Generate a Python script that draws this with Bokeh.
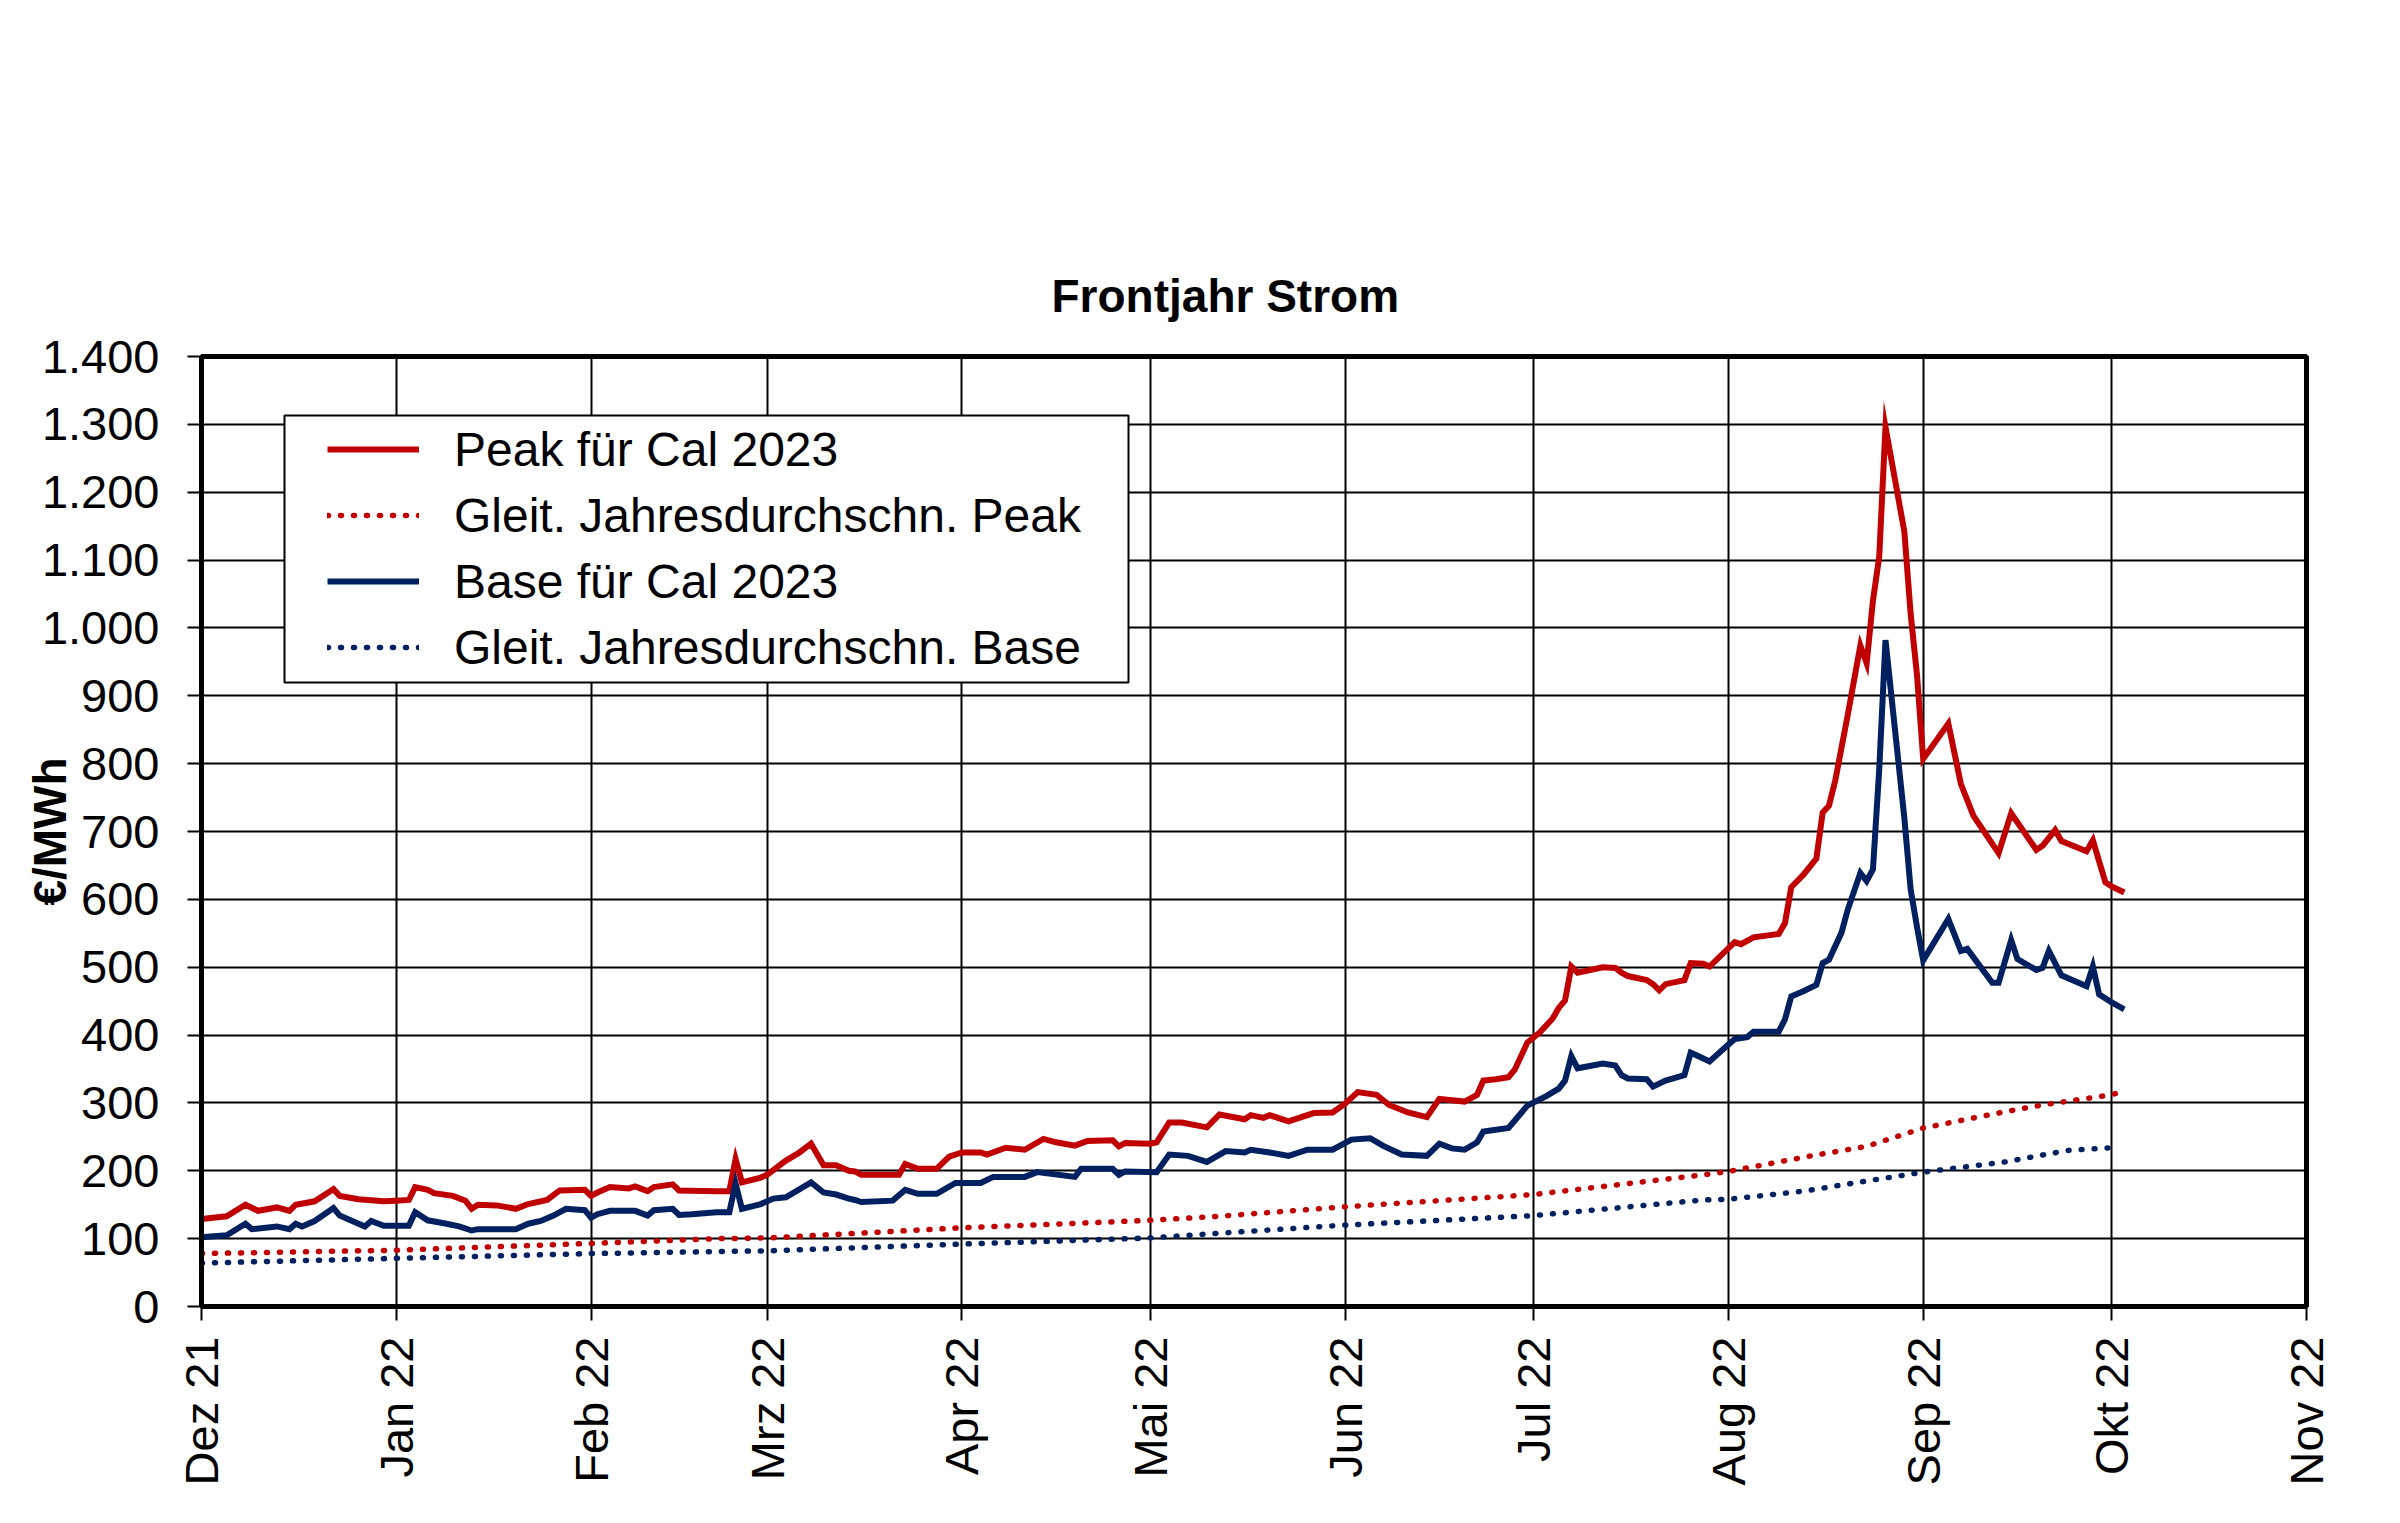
import pandas as pd
from bokeh.plotting import figure
from bokeh.models import FixedTicker, CustomJSTickFormatter, Legend, LegendItem, Range1d, BoxAnnotation
from bokeh.embed import file_html
from bokeh.resources import INLINE

title_text = "Frontjahr Strom"
y_label = "€/MWh"

peak_dates = ["2021-12-01","2021-12-05","2021-12-08","2021-12-10","2021-12-13","2021-12-15","2021-12-16","2021-12-19",
              "2021-12-22","2021-12-23","2021-12-26","2021-12-30","2022-01-01","2022-01-03","2022-01-04","2022-01-06",
              "2022-01-07","2022-01-10","2022-01-12","2022-01-13","2022-01-14","2022-01-17","2022-01-20","2022-01-22",
              "2022-01-25","2022-01-27","2022-01-31","2022-02-01","2022-02-02","2022-02-04","2022-02-07","2022-02-08",
              "2022-02-10","2022-02-11","2022-02-14","2022-02-15","2022-02-21","2022-02-23","2022-02-24","2022-02-25",
              "2022-02-28","2022-03-01","2022-03-04","2022-03-06","2022-03-08","2022-03-10","2022-03-12","2022-03-14",
              "2022-03-15","2022-03-16","2022-03-22","2022-03-23","2022-03-25","2022-03-28","2022-03-30","2022-04-01",
              "2022-04-04","2022-04-05","2022-04-08","2022-04-11","2022-04-14","2022-04-16","2022-04-19","2022-04-21",
              "2022-04-25","2022-04-26","2022-04-27","2022-05-01","2022-05-02","2022-05-04","2022-05-06","2022-05-10",
              "2022-05-12","2022-05-16","2022-05-17","2022-05-19","2022-05-20","2022-05-23","2022-05-27","2022-05-30",
              "2022-06-01","2022-06-03","2022-06-06","2022-06-08","2022-06-11","2022-06-14","2022-06-16","2022-06-18",
              "2022-06-20","2022-06-22","2022-06-23","2022-06-25","2022-06-27","2022-06-28","2022-06-30","2022-07-02",
              "2022-07-04","2022-07-05","2022-07-06","2022-07-07","2022-07-08","2022-07-12","2022-07-14","2022-07-15",
              "2022-07-16","2022-07-19","2022-07-20","2022-07-21","2022-07-22","2022-07-25","2022-07-26","2022-07-28",
              "2022-07-29","2022-08-02","2022-08-03","2022-08-05","2022-08-09","2022-08-10","2022-08-11","2022-08-13",
              "2022-08-15","2022-08-16","2022-08-17","2022-08-18","2022-08-20","2022-08-22","2022-08-23","2022-08-24",
              "2022-08-25","2022-08-26","2022-08-29","2022-08-30","2022-08-31","2022-09-01","2022-09-05","2022-09-07",
              "2022-09-09","2022-09-13","2022-09-15","2022-09-19","2022-09-20","2022-09-22","2022-09-23","2022-09-27",
              "2022-09-28","2022-09-30","2022-10-01","2022-10-03"]
peak_values = [129,133,150,141,146,141,150,155,
               173,163,158,155,156,157,176,172,
               167,163,156,144,150,149,144,151,
               157,171,172,163,168,176,174,177,
               170,176,180,171,170,170,217,183,
               190,194,215,226,240,208,208,200,
               199,194,194,210,203,203,221,227,
               227,224,234,231,247,242,237,244,
               245,236,241,240,242,271,271,264,
               283,276,282,278,282,273,285,286,
               299,316,312,297,286,279,306,304,
               302,312,333,335,338,349,389,404,
               424,440,451,501,492,500,499,492,
               487,481,475,466,475,481,506,505,
               501,537,534,544,549,565,618,637,
               660,728,738,775,872,974,948,1040,
               1105,1296,1142,1021,932,807,859,770,
               723,668,727,673,679,702,686,671,
               687,625,619,610]

base_dates = ["2021-12-01","2021-12-05","2021-12-08","2021-12-09","2021-12-13","2021-12-15","2021-12-16","2021-12-17",
              "2021-12-19","2021-12-22","2021-12-23","2021-12-27","2021-12-28","2021-12-30","2022-01-03","2022-01-04",
              "2022-01-06","2022-01-09","2022-01-11","2022-01-13","2022-01-14","2022-01-20","2022-01-22","2022-01-24",
              "2022-01-26","2022-01-28","2022-01-31","2022-02-01","2022-02-02","2022-02-04","2022-02-08","2022-02-10",
              "2022-02-11","2022-02-14","2022-02-15","2022-02-17","2022-02-21","2022-02-23","2022-02-24","2022-02-25",
              "2022-02-28","2022-03-02","2022-03-04","2022-03-08","2022-03-10","2022-03-12","2022-03-14","2022-03-15",
              "2022-03-16","2022-03-21","2022-03-23","2022-03-25","2022-03-28","2022-03-31","2022-04-04","2022-04-06",
              "2022-04-11","2022-04-13","2022-04-19","2022-04-20","2022-04-25","2022-04-26","2022-04-27","2022-05-02",
              "2022-05-04","2022-05-07","2022-05-10","2022-05-13","2022-05-16","2022-05-17","2022-05-20","2022-05-23",
              "2022-05-26","2022-05-30","2022-06-02","2022-06-05","2022-06-07","2022-06-10","2022-06-14","2022-06-16",
              "2022-06-18","2022-06-20","2022-06-22","2022-06-23","2022-06-27","2022-06-30","2022-07-03","2022-07-05",
              "2022-07-06","2022-07-07","2022-07-08","2022-07-12","2022-07-14","2022-07-15","2022-07-16","2022-07-19",
              "2022-07-20","2022-07-22","2022-07-25","2022-07-26","2022-07-27","2022-07-29","2022-08-01","2022-08-02",
              "2022-08-04","2022-08-05","2022-08-09","2022-08-10","2022-08-11","2022-08-13","2022-08-15","2022-08-16",
              "2022-08-17","2022-08-19","2022-08-20","2022-08-22","2022-08-23","2022-08-24","2022-08-25","2022-08-26",
              "2022-08-29","2022-08-30","2022-08-31","2022-09-01","2022-09-05","2022-09-07","2022-09-08","2022-09-12",
              "2022-09-13","2022-09-15","2022-09-16","2022-09-19","2022-09-20","2022-09-21","2022-09-23","2022-09-27",
              "2022-09-28","2022-09-29","2022-10-01","2022-10-03"]
base_values = [102,105,122,114,118,114,122,118,
               126,145,134,118,126,119,119,139,
               127,122,118,112,114,114,122,126,
               134,144,142,131,136,141,141,134,
               142,144,135,136,139,139,181,144,
               151,159,161,183,168,165,159,157,
               154,156,172,166,166,182,182,191,
               191,198,191,203,203,194,199,198,
               224,222,213,229,227,231,227,222,
               231,231,246,248,237,224,222,240,
               233,231,242,258,263,296,310,321,
               333,369,351,358,355,341,336,335,
               324,333,341,374,370,361,386,394,
               397,405,405,423,457,465,474,506,
               511,551,585,639,627,644,791,982,
               720,615,560,510,571,524,527,477,
               477,540,512,496,499,524,488,472,
               501,460,448,438]

peak_ma_dates = ["2021-12-01","2022-01-01","2022-02-01","2022-02-21","2022-03-01","2022-04-01","2022-05-01",
                 "2022-05-12","2022-06-01","2022-07-01","2022-07-28","2022-08-01","2022-08-13","2022-08-23",
                 "2022-09-01","2022-09-14","2022-09-20","2022-10-01","2022-10-02"]
peak_ma_values = [78,83,93,100,101,116,127,133,147,165,194,199,220,236,263,287,297,312,315]

base_ma_dates = ["2021-12-01","2022-01-01","2022-02-01","2022-02-21","2022-03-01","2022-04-01","2022-05-01",
                 "2022-05-12","2022-06-01","2022-07-01","2022-07-28","2022-08-01","2022-08-13","2022-08-23",
                 "2022-09-01","2022-09-14","2022-09-24","2022-10-01","2022-10-02"]
base_ma_values = [64,71,78,81,82,92,101,108,120,134,157,158,170,185,198,213,230,234,235]

month_ticks = ["2021-12-01","2022-01-01","2022-02-01","2022-03-01","2022-04-01","2022-05-01","2022-06-01",
               "2022-07-01","2022-08-01","2022-09-01","2022-10-01","2022-11-01"]
month_labels = ["Dez 21","Jan 22","Feb 22","Mrz 22","Apr 22","Mai 22","Jun 22","Jul 22","Aug 22","Sep 22",
                "Okt 22","Nov 22"]
y_ticks = [0,100,200,300,400,500,600,700,800,900,1000,1100,1200,1300,1400]
y_tick_labels = ["0","100","200","300","400","500","600","700","800","900","1.000","1.100","1.200","1.300","1.400"]

series_names = ["Peak für Cal 2023", "Gleit. Jahresdurchschn. Peak", "Base für Cal 2023", "Gleit. Jahresdurchschn. Base"]
RED = "#C00000"
NAVY = "#002060"
FONT = "Liberation Sans"

def ms(dates):
    return [pd.Timestamp(d).value / 1e6 for d in dates]

tick_ms = ms(month_ticks)

FW, FH = 2105, 950
p = figure(x_axis_type="datetime", frame_width=FW, frame_height=FH,
           min_border_left=201, min_border_top=356, min_border_right=78, min_border_bottom=200,
           output_backend="svg", toolbar_location=None,
           x_range=Range1d(tick_ms[0], tick_ms[-1]), y_range=Range1d(0, 1400))
p.background_fill_color = "white"
p.border_fill_color = "white"
p.outline_line_color = "black"
p.outline_line_width = 5

p.title.text = title_text
p.title.text_font = FONT
p.title.text_font_size = "46px"
p.title.text_font_style = "bold"
p.title.text_color = "black"
p.title.align = "left"
p.title.offset = 850
p.title.standoff = 69

l1 = p.line(ms(peak_dates), peak_values, line_color=RED, line_width=6, line_join="miter")
l2 = p.line(ms(peak_ma_dates), peak_ma_values, line_color=RED, line_width=5.5, line_dash="1 12", line_cap="round")
l3 = p.line(ms(base_dates), base_values, line_color=NAVY, line_width=6, line_join="miter")
l4 = p.line(ms(base_ma_dates), base_ma_values, line_color=NAVY, line_width=5.5, line_dash="1 12", line_cap="round")

p.xaxis.ticker = FixedTicker(ticks=tick_ms)
p.xaxis.formatter = CustomJSTickFormatter(args=dict(tick_vals=tick_ms, tick_texts=month_labels),
    code="const i = tick_vals.indexOf(tick); return i >= 0 ? tick_texts[i] : '';")
p.yaxis.ticker = FixedTicker(ticks=y_ticks)
p.yaxis.formatter = CustomJSTickFormatter(args=dict(tick_vals=y_ticks, tick_texts=y_tick_labels),
    code="const i = tick_vals.indexOf(tick); return i >= 0 ? tick_texts[i] : String(tick);")
p.xaxis.major_label_orientation = 3.14159265 / 2

for ax in (p.xaxis[0], p.yaxis[0]):
    ax.axis_line_color = "black"
    ax.axis_line_width = 5
    ax.major_tick_line_color = "black"
    ax.major_tick_line_width = 2
    ax.major_tick_out = 14
    ax.major_tick_in = 0
    ax.minor_tick_line_color = None
    ax.major_label_text_font = FONT
    ax.major_label_text_font_size = "47px"
    ax.major_label_text_color = "black"
p.yaxis.major_label_standoff = 28
p.xaxis.major_label_standoff = 16
p.yaxis.axis_label = y_label
p.yaxis.axis_label_text_font = FONT
p.yaxis.axis_label_text_font_size = "46px"
p.yaxis.axis_label_text_font_style = "bold"
p.yaxis.axis_label_text_color = "black"
p.yaxis.axis_label_standoff = -37

p.xgrid.grid_line_color = "black"
p.xgrid.grid_line_width = 2
p.ygrid.grid_line_color = "black"
p.ygrid.grid_line_width = 2
p.xgrid.grid_line_alpha = 1
p.ygrid.grid_line_alpha = 1

# legend frame (screen units relative to the plot frame, y from bottom)
legend_box = BoxAnnotation(left=83, right=927, top=FH - 59, bottom=FH - 326,
                           left_units="screen", right_units="screen", top_units="screen", bottom_units="screen",
                           fill_color="white", fill_alpha=1, line_color="black", line_width=2, line_alpha=1)
p.add_layout(legend_box)

ROW = 56
legend = Legend(items=[LegendItem(label=series_names[0], renderers=[l1]),
                       LegendItem(label=series_names[1], renderers=[l2]),
                       LegendItem(label=series_names[2], renderers=[l3]),
                       LegendItem(label=series_names[3], renderers=[l4])],
                location=(126, FH - 65 - (4 * ROW + 3 * 10)))
legend.label_text_font = FONT
legend.label_text_font_size = "48px"
legend.label_text_color = "black"
legend.glyph_width = 92
legend.glyph_height = ROW
legend.label_height = ROW
legend.label_standoff = 35
legend.spacing = 10
legend.padding = 0
legend.margin = 0
legend.border_line_color = None
legend.background_fill_alpha = 0
p.add_layout(legend, "center")

open("out.html", "w").write(file_html(p, INLINE))
